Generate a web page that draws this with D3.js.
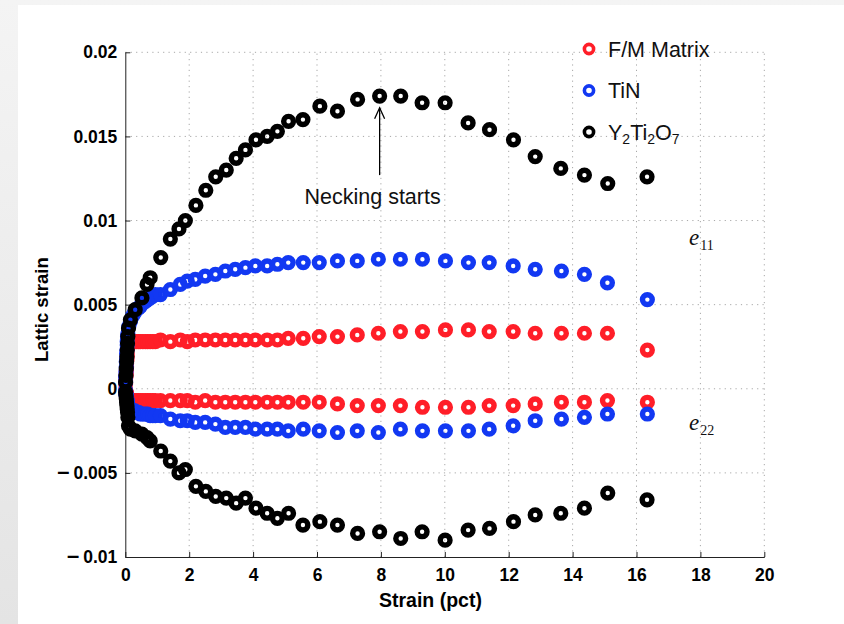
<!DOCTYPE html>
<html>
<head>
<meta charset="utf-8">
<script src="https://cdn.jsdelivr.net/npm/d3@7"></script>
<style>
  html, body { margin: 0; padding: 0; background: #ffffff; }
  svg { display: block; }
</style>
</head>
<body>
<svg id="chart" width="844" height="624"></svg>
<script>
// Applied strain (pct) at which the matrix and TiN peaks were fitted
const strainMatrix = [
  0.01, 0.01, 0.02, 0.03, 0.03, 0.04, 0.04, 0.05, 0.06, 0.06, 0.07, 0.08,
  0.11, 0.16, 0.22, 0.28, 0.34, 0.41, 0.47, 0.55, 0.63, 0.70,
  0.78, 0.86, 0.94, 1.10, 1.41, 1.72, 1.94, 2.19, 2.50, 2.82,
  3.13, 3.44, 3.76, 4.07, 4.44, 4.76, 5.10, 5.57, 6.07, 6.64,
  7.26, 7.92, 8.61, 9.30, 10.02, 10.74, 11.39, 12.14, 12.83, 13.65,
  14.37, 15.09, 16.34
];
// F/M matrix lattice strain, axial (e11) and transverse (e22)
const fmE11 = [
  0.0003, 0.0005, 0.0007, 0.0009, 0.0011, 0.0013, 0.0015, 0.0017, 0.0019, 0.0021, 0.0024, 0.0026,
  0.0027, 0.0028, 0.0028, 0.0028, 0.0028, 0.0028, 0.0028, 0.0028, 0.0028, 0.0028,
  0.0028, 0.0028, 0.0028, 0.0029, 0.0028, 0.0029, 0.0028, 0.0029, 0.0029, 0.0029,
  0.0029, 0.0029, 0.0029, 0.0029, 0.0029, 0.0029, 0.0030, 0.0030, 0.0031, 0.0031,
  0.0032, 0.0033, 0.0034, 0.0034, 0.0035, 0.0035, 0.0034, 0.0034, 0.0033, 0.0033,
  0.0033, 0.0033, 0.0023
];
const fmE22 = [
  -0.0001, -0.0001, -0.0002, -0.0002, -0.0003, -0.0003, -0.0004, -0.0004, -0.0005, -0.0005, -0.0006, -0.0006,
  -0.0007, -0.0007, -0.0007, -0.0007, -0.0007, -0.0007, -0.0007, -0.0007, -0.0007, -0.0007,
  -0.0007, -0.0007, -0.0007, -0.0007, -0.0007, -0.0007, -0.0007, -0.0008, -0.0007, -0.0008,
  -0.0008, -0.0008, -0.0008, -0.0008, -0.0008, -0.0008, -0.0008, -0.0008, -0.0008, -0.0009,
  -0.0010, -0.0010, -0.0010, -0.0011, -0.0011, -0.0011, -0.0010, -0.0010, -0.0009, -0.0008,
  -0.0008, -0.0007, -0.0008
];
// TiN lattice strain
const tinE11 = [
  0.0004, 0.0007, 0.0010, 0.0013, 0.0016, 0.0018, 0.0021, 0.0023, 0.0026, 0.0028, 0.0031, 0.0033,
  0.0037, 0.0040, 0.0043, 0.0045, 0.0047, 0.0048, 0.0049, 0.0051, 0.0052, 0.0053,
  0.0054, 0.0055, 0.0056, 0.0056, 0.0059, 0.0062, 0.0064, 0.0065, 0.0067, 0.0068,
  0.0070, 0.0071, 0.0072, 0.0073, 0.0073, 0.0074, 0.0075, 0.0075, 0.0075, 0.0076,
  0.0076, 0.0077, 0.0077, 0.0077, 0.0076, 0.0075, 0.0075, 0.0073, 0.0071, 0.0070,
  0.0068, 0.0063, 0.0053
];
const tinE22 = [
  -0.0001, -0.0002, -0.0003, -0.0004, -0.0004, -0.0005, -0.0006, -0.0007, -0.0007, -0.0008, -0.0009, -0.0010,
  -0.0011, -0.0012, -0.0013, -0.0013, -0.0014, -0.0014, -0.0015, -0.0015, -0.0015, -0.0015,
  -0.0016, -0.0016, -0.0016, -0.0016, -0.0018, -0.0019, -0.0019, -0.0020, -0.0020, -0.0021,
  -0.0023, -0.0023, -0.0023, -0.0024, -0.0024, -0.0024, -0.0025, -0.0024, -0.0025, -0.0026,
  -0.0025, -0.0026, -0.0024, -0.0025, -0.0025, -0.0025, -0.0024, -0.0022, -0.0019, -0.0018,
  -0.0017, -0.0015, -0.0015
];
// Applied strain (pct) for the Y2Ti2O7 oxide peaks
const strainOxide = [
  0.01, 0.02, 0.03, 0.04, 0.05, 0.06, 0.07, 0.08, 0.10,
  0.16, 0.31, 0.52, 0.68, 0.78, 1.11, 1.41, 1.68, 1.88, 2.21,
  2.52, 2.83, 3.16, 3.47, 3.76, 4.09, 4.44, 4.76, 5.11, 5.56,
  6.09, 6.64, 7.27, 7.96, 8.62, 9.29, 10.01, 10.73, 11.40, 12.15,
  12.83, 13.63, 14.37, 15.10, 16.33
];
const oxE11 = [
  0.0004, 0.0008, 0.0012, 0.0016, 0.0019, 0.0023, 0.0027, 0.0031, 0.0036,
  0.0041, 0.0047, 0.0054, 0.0062, 0.0066, 0.0078, 0.0089, 0.0095, 0.0100, 0.0109,
  0.0118, 0.0126, 0.0130, 0.0137, 0.0142, 0.0148, 0.0150, 0.0153, 0.0159, 0.0160,
  0.0168, 0.0165, 0.0172, 0.0174, 0.0174, 0.0170, 0.0170, 0.0158, 0.0154, 0.0148,
  0.0138, 0.0131, 0.0127, 0.0122, 0.0126
];
const oxE22 = [
  -0.0002, -0.0004, -0.0006, -0.0008, -0.0010, -0.0012, -0.0014, -0.0017, -0.0022,
  -0.0024, -0.0025, -0.0027, -0.0029, -0.0031, -0.0037, -0.0043, -0.0050, -0.0048, -0.0058,
  -0.0061, -0.0064, -0.0065, -0.0068, -0.0065, -0.0071, -0.0074, -0.0077, -0.0074, -0.0081,
  -0.0079, -0.0081, -0.0086, -0.0085, -0.0089, -0.0085, -0.0090, -0.0084, -0.0083, -0.0079,
  -0.0075, -0.0074, -0.0071, -0.0062, -0.0066
];

const phaseNames = ["F/M Matrix", "TiN", "Y2Ti2O7"];
const phaseColors = ["#ff1e28", "#1238f2", "#000000"];
const xTicks = [0, 2, 4, 6, 8, 10, 12, 14, 16, 18, 20];
const yTicks = [-0.01, -0.005, 0, 0.005, 0.01, 0.015, 0.02];
const yTickLabels = ["0.01", "0.005", "0", "0.005", "0.01", "0.015", "0.02"];

const series = [
  { phase: 0, x: strainMatrix, y: fmE11 },
  { phase: 0, x: strainMatrix, y: fmE22 },
  { phase: 1, x: strainMatrix, y: tinE11 },
  { phase: 1, x: strainMatrix, y: tinE22 },
  { phase: 2, x: strainOxide, y: oxE11 },
  { phase: 2, x: strainOxide, y: oxE22 }
];

const svg = d3.select("#chart");
const W = 844, H = 624;
const sans = "'Liberation Sans', Arial, Helvetica, sans-serif";

// page backdrop: soft grey frame with a white sheet
const defs = svg.append("defs");
const grad = defs.append("linearGradient").attr("id", "frame").attr("x1", 0).attr("y1", 0).attr("x2", 0).attr("y2", 1);
grad.append("stop").attr("offset", "0%").attr("stop-color", "#f4f4f4");
grad.append("stop").attr("offset", "100%").attr("stop-color", "#e4e4e4");
svg.append("rect").attr("width", W).attr("height", H).attr("fill", "url(#frame)");
svg.append("rect").attr("x", 18).attr("y", 5).attr("width", W - 18).attr("height", H - 5).attr("fill", "#ffffff");

const x = d3.scaleLinear().domain([0, 20]).range([125.3, 764.3]);
const y = d3.scaleLinear().domain([-0.01, 0.02]).range([557, 52.3]);

// dotted grid
const grid = svg.append("g").attr("stroke", "#a8a8a8").attr("stroke-width", 1).attr("stroke-dasharray", "1.2,4.2");
grid.selectAll("line.v").data(xTicks.slice(1)).join("line")
  .attr("x1", d => x(d)).attr("x2", d => x(d)).attr("y1", y(-0.01)).attr("y2", y(0.02));
grid.selectAll("line.h").data(yTicks.slice(1)).join("line")
  .attr("x1", x(0)).attr("x2", x(20)).attr("y1", d => y(d)).attr("y2", d => y(d));

// axes (ticks point inward)
const xAxis = d3.axisBottom(x).tickValues(xTicks).tickSizeInner(-5).tickSizeOuter(0).tickPadding(12);
const yAxis = d3.axisLeft(y).tickValues(yTicks).tickSizeInner(-5).tickSizeOuter(0).tickPadding(8)
  .tickFormat((d, i) => yTickLabels[i]);

const gx = svg.append("g").attr("transform", `translate(0,${y(-0.01)})`).call(xAxis);
const gy = svg.append("g").attr("transform", `translate(${x(0)},0)`).call(yAxis);
[gx, gy].forEach(g => {
  g.select(".domain").attr("stroke", "#222").attr("stroke-width", 1);
  g.selectAll(".tick line").attr("stroke", "#222").attr("stroke-width", 1);
  g.selectAll(".tick text").attr("fill", "#000").attr("font-family", sans)
    .attr("font-size", 17.5).attr("font-weight", "bold");
});
// negative labels carry a long dash set apart from the digits
gy.selectAll(".tick text").each(function (d) {
  if (d < 0) {
    const t = d3.select(this);
    const digits = t.text();
    t.text(null);
    t.append("tspan").attr("font-size", 22).text("\u2013");
    t.append("tspan").attr("dx", 4).text(digits);
  }
});

// axis titles
svg.append("text").attr("x", x(9.55)).attr("y", 607).attr("text-anchor", "middle")
  .attr("font-family", sans).attr("font-size", 19.5).attr("font-weight", "bold").text("Strain (pct)");
svg.append("text").attr("transform", `translate(48,${y(0.0047)}) rotate(-90)`).attr("text-anchor", "middle")
  .attr("font-family", sans).attr("font-size", 18.5).attr("font-weight", "bold").text("Lattic strain");

// data markers: thick open circles
const marks = svg.append("g");
series.forEach(s => {
  const pts = s.x.map((v, i) => [v, s.y[i]]);
  marks.append("g").selectAll("circle").data(pts).join("circle")
    .attr("cx", d => x(d[0])).attr("cy", d => y(d[1])).attr("r", 4.9)
    .attr("fill", "none").attr("stroke", phaseColors[s.phase]).attr("stroke-width", 5.4);
});

// necking annotation
const neckX = strainOxide[32];
const ax = x(neckX);
svg.append("line").attr("x1", ax).attr("x2", ax).attr("y1", y(0.0127)).attr("y2", y(0.0167))
  .attr("stroke", "#000").attr("stroke-width", 1.3);
svg.append("path").attr("d", `M${ax - 5},${y(0.0167) + 11} L${ax},${y(0.0167)} L${ax + 5},${y(0.0167) + 11}`)
  .attr("fill", "none").attr("stroke", "#000").attr("stroke-width", 1.3);
svg.append("text").attr("x", ax - 7).attr("y", y(0.0110)).attr("text-anchor", "middle")
  .attr("font-family", sans).attr("font-size", 21.5).attr("fill", "#111").text("Necking starts");

// component labels
function compLabel(px, py, sub) {
  const t = svg.append("text").attr("x", px).attr("y", py).attr("font-family", "'Liberation Serif', 'DejaVu Serif', serif").attr("fill", "#111");
  t.append("tspan").attr("font-size", 23).attr("font-style", "italic").text("e");
  t.append("tspan").attr("font-size", 14).attr("dx", 1).attr("dy", 5).text(sub);
}
compLabel(689, 245, "11");
compLabel(689, 430, "22");

// legend
const legend = svg.append("g");
phaseNames.forEach((name, i) => {
  const ly = 49 + i * 41.5;
  legend.append("circle").attr("cx", 589).attr("cy", ly).attr("r", 4.6)
    .attr("fill", "none").attr("stroke", phaseColors[i]).attr("stroke-width", 3.6);
  const t = legend.append("text").attr("x", 608).attr("y", ly + 7.5)
    .attr("font-family", sans).attr("font-size", 21.5).attr("fill", "#111");
  if (name === "Y2Ti2O7") {
    t.append("tspan").text("Y");
    t.append("tspan").attr("font-size", 14).attr("dy", 4).text("2");
    t.append("tspan").attr("dy", -4).text("Ti");
    t.append("tspan").attr("font-size", 14).attr("dy", 4).text("2");
    t.append("tspan").attr("dy", -4).text("O");
    t.append("tspan").attr("font-size", 14).attr("dy", 4).text("7");
  } else {
    t.text(name);
  }
});
</script>
</body>
</html>
